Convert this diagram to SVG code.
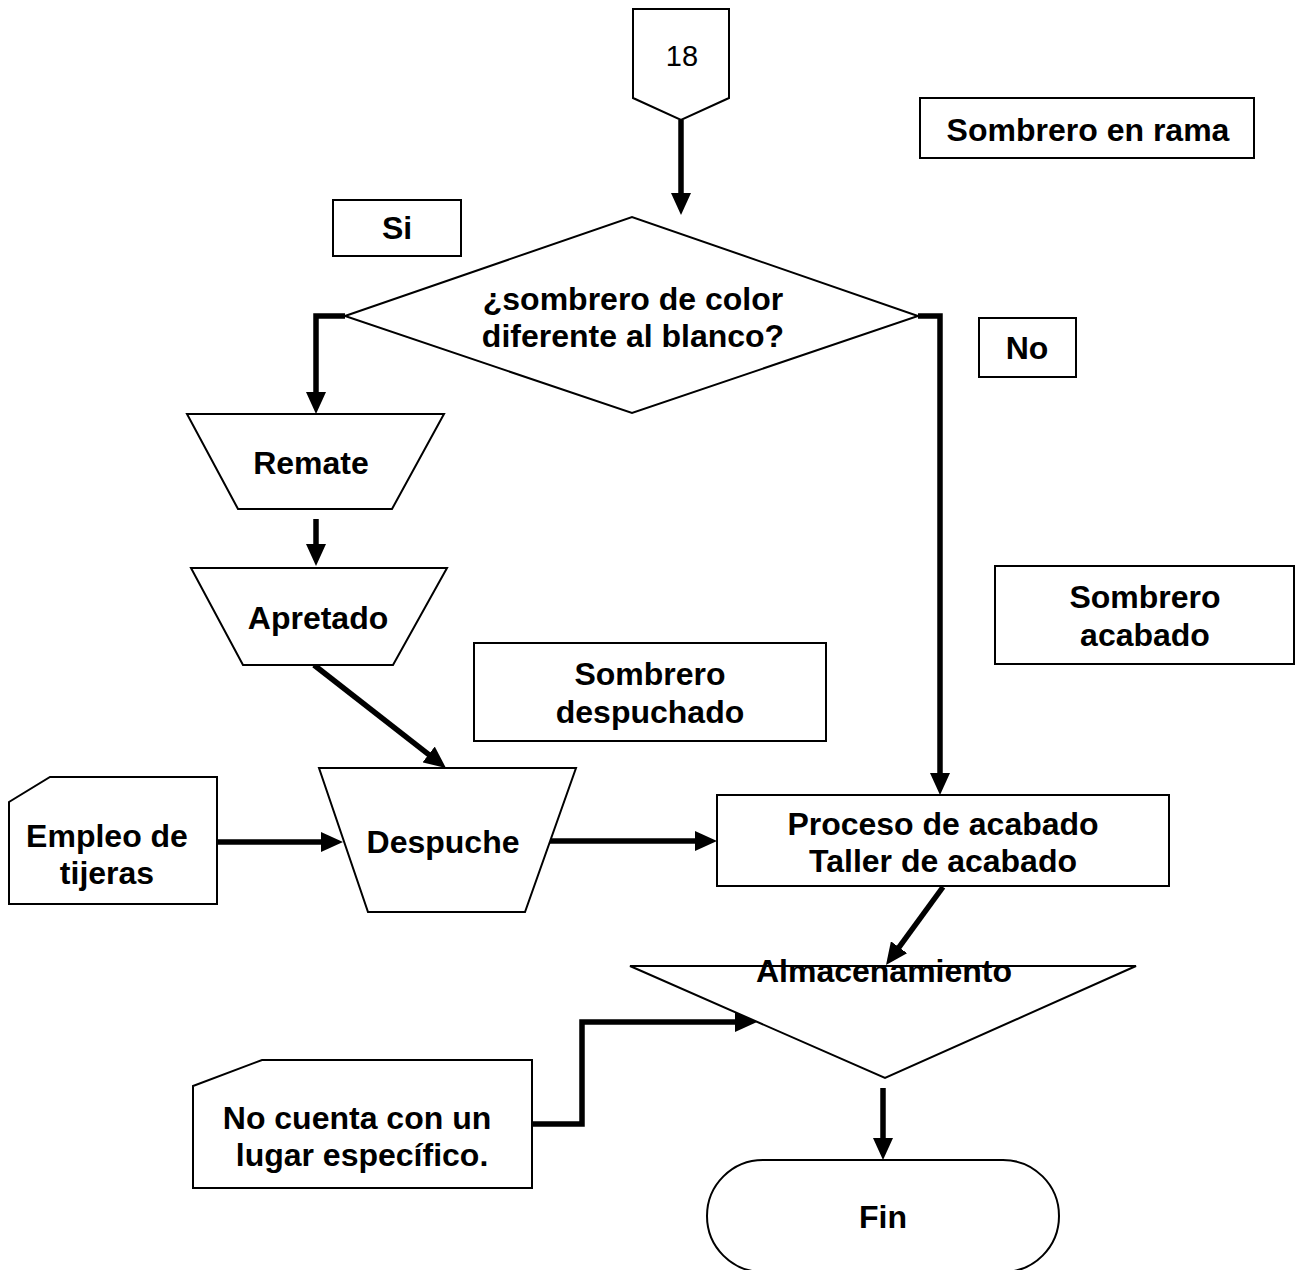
<svg xmlns="http://www.w3.org/2000/svg" width="1301" height="1270" viewBox="0 0 1301 1270">
<style>
.s{fill:#fff;stroke:#000;stroke-width:2}
.t{font-family:"Liberation Sans",Arial,sans-serif;font-weight:bold;font-size:32px;text-anchor:middle;fill:#000}
.r{font-family:"Liberation Sans",Arial,sans-serif;font-size:29px;text-anchor:middle;fill:#000}
.c{fill:none;stroke:#000;stroke-width:5.5}
</style>
<defs>
<marker id="ah" markerUnits="userSpaceOnUse" markerWidth="22" markerHeight="20" refX="10" refY="10" orient="auto">
<path d="M0,0 L22,10 L0,20 Z" fill="#000"/>
</marker>
</defs>
<rect width="1301" height="1270" fill="#fff"/>
<g id="connectors">
<path class="c" d="M681,120 V203" marker-end="url(#ah)"/>
<path class="c" d="M345,316 H316 V402" marker-end="url(#ah)"/>
<path class="c" d="M918,316 H940 V783" marker-end="url(#ah)"/>
<path class="c" d="M316,519 V554" marker-end="url(#ah)"/>
<path class="c" d="M314,665 L436.5,760.6" marker-end="url(#ah)"/>
<path class="c" d="M217,842 H331" marker-end="url(#ah)"/>
<path class="c" d="M550,841 H705" marker-end="url(#ah)"/>
<path class="c" d="M943,887 L893.1,955.3" marker-end="url(#ah)"/>
<path class="c" d="M532,1124 H582 V1022 H745" marker-end="url(#ah)"/>
<path class="c" d="M883,1088 V1148" marker-end="url(#ah)"/>
</g>
<g id="n18">
<path class="s" d="M633,9 H729 V98 L681,120 L633,98 Z"/>
<text class="r" x="682" y="66">18</text>
</g>
<g id="rama">
<rect class="s" x="920" y="98" width="334" height="60"/>
<text class="t" x="1088" y="141">Sombrero en rama</text>
</g>
<g id="si">
<rect class="s" x="333" y="200" width="128" height="56"/>
<text class="t" x="397" y="239">Si</text>
</g>
<g id="decision">
<path class="s" d="M345,316 L632,217 L918,316 L632,413 Z"/>
<text class="t" x="633" y="310">¿sombrero de color</text>
<text class="t" x="633" y="347">diferente al blanco?</text>
</g>
<g id="no">
<rect class="s" x="979" y="318" width="97" height="59"/>
<text class="t" x="1027" y="359">No</text>
</g>
<g id="remate">
<path class="s" d="M187,414 H444 L392,509 H238 Z"/>
<text class="t" x="311" y="474">Remate</text>
</g>
<g id="apretado">
<path class="s" d="M191,568 H447 L393,665 H243 Z"/>
<text class="t" x="318" y="629">Apretado</text>
</g>
<g id="acabado">
<rect class="s" x="995" y="566" width="299" height="98"/>
<text class="t" x="1145" y="608">Sombrero</text>
<text class="t" x="1145" y="646">acabado</text>
</g>
<g id="despuchado">
<rect class="s" x="474" y="643" width="352" height="98"/>
<text class="t" x="650" y="685">Sombrero</text>
<text class="t" x="650" y="723">despuchado</text>
</g>
<g id="empleo">
<path class="s" d="M50,777 H217 V904 H9 V802 Z"/>
<text class="t" x="107" y="847">Empleo de</text>
<text class="t" x="107" y="884">tijeras</text>
</g>
<g id="despuche">
<path class="s" d="M319,768 H576 L525,912 H368 Z"/>
<text class="t" x="443" y="853">Despuche</text>
</g>
<g id="proceso">
<rect class="s" x="717" y="795" width="452" height="91"/>
<text class="t" x="943" y="835">Proceso de acabado</text>
<text class="t" x="943" y="872">Taller de acabado</text>
</g>
<g id="almacenamiento">
<path class="s" d="M630,966 H1136 L885,1078 Z"/>
<text class="t" x="884" y="982">Almacenamiento</text>
</g>
<g id="nocuenta">
<path class="s" d="M262,1060 H532 V1188 H193 V1086 Z"/>
<text class="t" x="357" y="1129">No cuenta con un</text>
<text class="t" x="362" y="1166">lugar específico.</text>
</g>
<g id="fin">
<rect class="s" x="707" y="1160" width="352" height="112" rx="56" ry="56"/>
<text class="t" x="883" y="1228">Fin</text>
</g>
</svg>
